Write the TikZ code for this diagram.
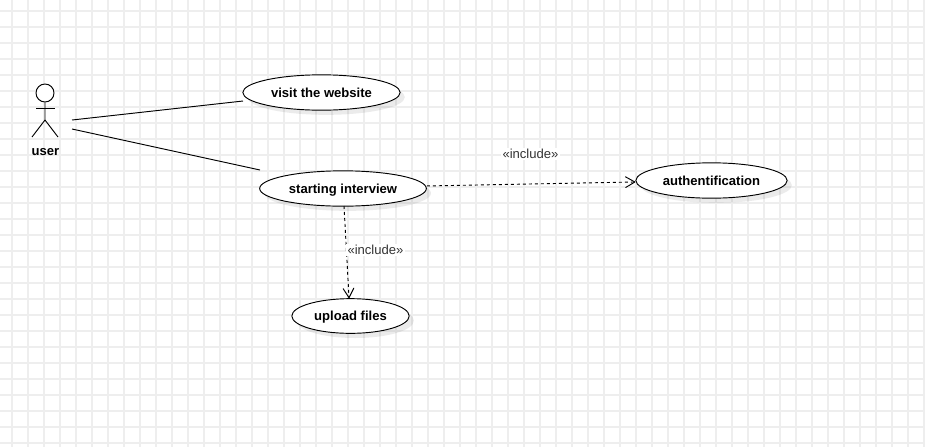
\documentclass[tikz,border=0pt]{standalone}
\usepackage{fontspec}
\setmainfont{Liberation Sans}
\usetikzlibrary{shapes.geometric, shadows, arrows.meta}
\definecolor{gridgray}{HTML}{EEEEEE}
\definecolor{labelgray}{HTML}{333333}
\tikzset{
    gridline/.style={draw=gridgray, line width=1.5pt},
    usecase/.style={ellipse, draw=black, fill=white, line width=0.7pt, inner sep=0pt,
        text height=7.2pt, text depth=0.4pt,
        font=\fontsize{9.8}{11}\selectfont\bfseries,
        drop shadow={shadow xshift=3.5pt, shadow yshift=-3.5pt, fill=black, opacity=0.08}},
    actorline/.style={draw=black, line width=0.7pt},
    includearrow/.style={draw=black, line width=0.7pt, dash pattern=on 2.25pt off 2.25pt,
        -{Straight Barb[length=7pt, width=8pt, line width=0.7pt, round=false]}},
    includelabel/.style={fill=white, inner sep=1pt, text=labelgray, font=\fontsize{9.8}{11}\selectfont},
}
\begin{document}
\begin{tikzpicture}[x=0.75pt, y=-0.75pt]
    \useasboundingbox (0,0) rectangle (925,447);
    % Grid:
    \fill[white] (0,0) rectangle (925,447);
    \foreach \gx in {12,28,...,924} \draw[gridline] (\gx,0) -- (\gx,447);
    \foreach \gy in {11,27,...,446} \draw[gridline] (0,\gy) -- (925,\gy);

    % Actor:
    \node (head) [circle, draw=black, fill=white, line width=0.7pt, minimum size=13.5pt, inner sep=0pt] at (45,93) {};
    \coordinate (hip) at (45,120);
    \coordinate (armL) at (36,108);
    \coordinate (armR) at (55,108);
    \coordinate (legL) at (32,137);
    \coordinate (legR) at (58,137);
    \draw[actorline] (head.south) -- (hip) -- (legL);
    \draw[actorline] (hip) -- (legR);
    \draw[actorline] (armL) -- (armR);
    \node (user) [font=\fontsize{9.8}{11}\selectfont\bfseries, inner sep=0pt] at (45.5,152) {user};

    % Use cases:
    \node (visit) [usecase, minimum width=118pt, minimum height=26.5pt] at (321.5,92.5) {visit the website};
    \node (starting) [usecase, minimum width=125pt, minimum height=26.5pt] at (343,188.5) {starting interview};
    \node (auth) [usecase, minimum width=113.5pt, minimum height=26.5pt] at (711.5,180.5) {authentification};
    \node (upload) [usecase, minimum width=88pt, minimum height=26pt] at (350.5,316) {upload files};

    % Connectors:
    \coordinate (userA) at (72,120);
    \coordinate (userB) at (72,129);
    \coordinate (visitEnd) at (243,101);
    \coordinate (startEnd) at (260,170);
    \coordinate (startDown) at (344,206);
    \draw[actorline] (userA) -- (visitEnd);
    \draw[actorline] (userB) -- (startEnd);
    \draw[includearrow] ([yshift=1.9pt]starting.east) -- ([yshift=-1.1pt]auth.west);
    \draw[includearrow] (startDown) -- ([xshift=-1.1pt]upload.north);

    % Labels:
    \node (includeAuth) [includelabel] at (530.5,154) {«include»};
    \node (includeUpload) [includelabel] at (375.5,250) {«include»};
\end{tikzpicture}
\end{document}
